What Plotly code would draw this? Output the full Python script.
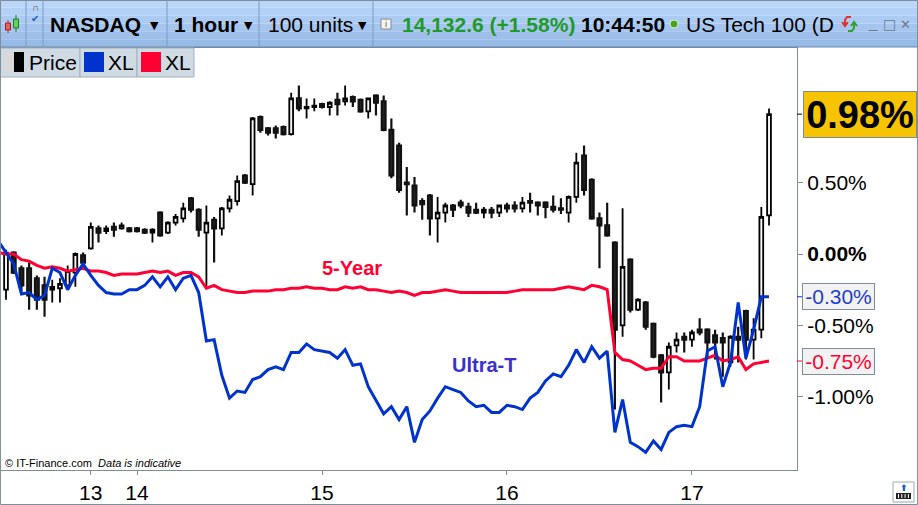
import plotly.graph_objects as go

# ---------------- data ----------------
bar_index = list(range(100))
price_open = [-0.25, 0.01, -0.10, -0.10, -0.17, -0.22, -0.25, -0.24, -0.22, -0.13,
              -0.01, 0.04, 0.18, 0.16, 0.19, 0.18, 0.18, 0.18, 0.17, 0.15,
              0.29, 0.15, 0.22, 0.25, 0.39, 0.31, 0.15, 0.24, 0.18, 0.32,
              0.37, 0.55, 0.49, 0.96, 0.88, 0.88, 0.89, 0.84, 1.09, 1.02,
              1.03, 1.05, 1.03, 1.08, 1.07, 1.10, 1.08, 1.00, 1.11, 1.07,
              0.87, 0.76, 0.50, 0.48, 0.37, 0.41, 0.25, 0.29, 0.34, 0.36,
              0.33, 0.31, 0.29, 0.31, 0.29, 0.34, 0.34, 0.32, 0.37, 0.36,
              0.36, 0.33, 0.32, 0.29, 0.40, 0.69, 0.52, 0.25, 0.20, 0.08,
              -0.50, -0.04, -0.39, -0.34, -0.49, -0.71, -0.83, -0.64, -0.58, -0.60,
              -0.53, -0.53, -0.57, -0.59, -0.76, -0.58, -0.40, -0.60, -0.53, 0.27]
price_high = [0.03, 0.02, -0.08, -0.06, -0.15, -0.16, -0.18, -0.17, -0.08, 0.01,
              0.01, 0.22, 0.20, 0.20, 0.22, 0.22, 0.19, 0.19, 0.18, 0.18,
              0.30, 0.23, 0.28, 0.36, 0.40, 0.32, 0.34, 0.26, 0.33, 0.41,
              0.55, 0.56, 0.96, 0.97, 0.89, 0.90, 0.90, 1.13, 1.18, 1.09,
              1.09, 1.06, 1.07, 1.13, 1.18, 1.11, 1.09, 1.09, 1.12, 1.11,
              0.95, 0.78, 0.61, 0.54, 0.39, 0.42, 0.40, 0.36, 0.35, 0.38,
              0.36, 0.36, 0.33, 0.33, 0.34, 0.36, 0.37, 0.40, 0.43, 0.37,
              0.37, 0.41, 0.39, 0.41, 0.71, 0.76, 0.53, 0.29, 0.36, 0.09,
              0.32, -0.03, -0.31, -0.33, -0.48, -0.70, -0.62, -0.55, -0.55, -0.53,
              -0.45, -0.52, -0.53, -0.55, -0.57, -0.51, -0.39, -0.45, 0.33, 1.02]
price_low = [-0.32, -0.14, -0.27, -0.39, -0.39, -0.44, -0.34, -0.34, -0.24, -0.23,
             -0.07, 0.03, 0.08, 0.14, 0.12, 0.17, 0.15, 0.15, 0.14, 0.08,
             0.12, 0.14, 0.20, 0.22, 0.29, 0.12, -0.23, -0.06, 0.13, 0.29,
             0.34, 0.49, 0.41, 0.85, 0.83, 0.81, 0.83, 0.83, 1.00, 0.95,
             1.00, 1.02, 0.97, 0.97, 1.04, 1.03, 0.99, 0.95, 0.97, 0.86,
             0.53, 0.43, 0.27, 0.29, 0.24, 0.13, 0.08, 0.22, 0.26, 0.32,
             0.26, 0.28, 0.25, 0.25, 0.26, 0.29, 0.29, 0.29, 0.29, 0.27,
             0.25, 0.29, 0.28, 0.22, 0.36, 0.41, 0.24, -0.10, 0.12, -1.09,
             -0.58, -0.41, -0.40, -0.53, -0.73, -1.04, -0.95, -0.69, -0.69, -0.65,
             -0.57, -0.72, -0.74, -0.86, -0.79, -0.76, -0.74, -0.74, -0.59, 0.20]
price_close = [0.01, -0.13, -0.22, -0.29, -0.32, -0.32, -0.23, -0.21, -0.12, 0.00,
               -0.06, 0.19, 0.15, 0.18, 0.17, 0.20, 0.16, 0.16, 0.15, 0.17,
               0.13, 0.22, 0.26, 0.32, 0.31, 0.17, 0.22, 0.18, 0.32, 0.38,
               0.51, 0.50, 0.95, 0.87, 0.85, 0.85, 0.84, 1.09, 1.02, 1.03,
               1.04, 1.03, 1.06, 1.05, 1.09, 1.07, 1.00, 1.09, 1.06, 0.87,
               0.55, 0.45, 0.49, 0.34, 0.35, 0.25, 0.29, 0.34, 0.31, 0.34,
               0.29, 0.29, 0.31, 0.29, 0.34, 0.32, 0.32, 0.36, 0.36, 0.34,
               0.33, 0.31, 0.31, 0.40, 0.64, 0.45, 0.25, 0.20, 0.13, -0.53,
               -0.09, -0.39, -0.32, -0.51, -0.72, -0.83, -0.65, -0.60, -0.60, -0.55,
               -0.55, -0.62, -0.62, -0.62, -0.58, -0.60, -0.60, -0.53, 0.26, 0.98]

line_index = list(range(-1, 100))
ultra_t = [0.09, 0.01, -0.07, -0.28, -0.27, -0.32, -0.29, -0.10, -0.13, -0.25, -0.15,
           -0.07, -0.15, -0.22, -0.27, -0.28, -0.28, -0.25, -0.25, -0.22, -0.16,
           -0.23, -0.16, -0.25, -0.17, -0.15, -0.27, -0.61, -0.60, -0.85, -1.01,
           -0.96, -0.97, -0.88, -0.86, -0.81, -0.79, -0.81, -0.69, -0.69, -0.63,
           -0.67, -0.68, -0.69, -0.73, -0.67, -0.78, -0.77, -0.93, -1.02, -1.12,
           -1.07, -1.16, -1.07, -1.32, -1.16, -1.10, -1.01, -0.93, -0.95, -0.97,
           -1.03, -1.07, -1.06, -1.11, -1.11, -1.06, -1.07, -1.09, -1.01, -0.97,
           -0.89, -0.84, -0.86, -0.78, -0.67, -0.76, -0.65, -0.73, -0.68, -1.25,
           -1.02, -1.32, -1.35, -1.39, -1.31, -1.37, -1.25, -1.21, -1.20, -1.21,
           -1.07, -0.68, -0.65, -0.93, -0.76, -0.34, -0.73, -0.53, -0.30, -0.30]
five_year = [0.01, 0.00, 0.00, -0.04, -0.05, -0.08, -0.10, -0.09, -0.10, -0.12, -0.11,
             -0.10, -0.12, -0.12, -0.13, -0.15, -0.14, -0.14, -0.14, -0.13, -0.12,
             -0.13, -0.12, -0.15, -0.13, -0.13, -0.16, -0.24, -0.22, -0.25, -0.26,
             -0.27, -0.27, -0.26, -0.26, -0.26, -0.25, -0.25, -0.24, -0.24, -0.23,
             -0.24, -0.24, -0.25, -0.25, -0.23, -0.24, -0.23, -0.25, -0.25, -0.26,
             -0.27, -0.26, -0.27, -0.29, -0.27, -0.27, -0.26, -0.25, -0.26, -0.27,
             -0.27, -0.27, -0.27, -0.27, -0.27, -0.27, -0.26, -0.25, -0.25, -0.25,
             -0.25, -0.25, -0.24, -0.23, -0.24, -0.25, -0.22, -0.23, -0.25, -0.69,
             -0.74, -0.75, -0.78, -0.81, -0.80, -0.80, -0.72, -0.72, -0.75, -0.75,
             -0.75, -0.73, -0.71, -0.75, -0.74, -0.72, -0.81, -0.77, -0.76, -0.75]

series_names = ["Price", "XL", "XL"]
series_labels = ["5-Year", "Ultra-T"]
day_ticks = [11, 17, 41, 65, 89]
day_labels = ["13", "14", "15", "16", "17"]
pct_ticks = [0.5, 0.0, -0.5, -1.0]
pct_labels = ["0.50%", "<b>0.00%</b>", "-0.50%", "-1.00%"]

# ---------------- styling / helpers ----------------
W, H = 918, 505
FONT = "Liberation Sans, Arial, sans-serif"
BLUE = "#0033cc"
RED = "#ff0033"
AXC = "#7f8c99"


def px(x):
    return x / W


def py(y):
    return 1 - y / H


fig = go.Figure()

fig.add_trace(go.Candlestick(
    x=bar_index, open=price_open, high=price_high, low=price_low, close=price_close,
    name=series_names[0],
    increasing=dict(line=dict(color="#000000", width=1.8), fillcolor="#f4f4f4"),
    decreasing=dict(line=dict(color="#111111", width=2.2), fillcolor="#222222"),
    whiskerwidth=0, hoverinfo="skip", showlegend=False,
))
fig.add_trace(go.Scatter(x=line_index, y=five_year, mode="lines", name=series_names[2],
                         line=dict(color=RED, width=3), hoverinfo="skip", showlegend=False))
fig.add_trace(go.Scatter(x=line_index, y=ultra_t, mode="lines", name=series_names[1],
                         line=dict(color=BLUE, width=3), hoverinfo="skip", showlegend=False))

shapes = []
annotations = []


def note(x, y, text, size=21, color="#000000", xanchor="center", family=FONT, **kw):
    annotations.append(dict(x=px(x), y=py(y), xref="paper", yref="paper", text=text, showarrow=False,
                            xanchor=xanchor, yanchor="middle",
                            font=dict(size=size, color=color, family=family), **kw))


def ppath(points, color, width=2):
    d = "M " + " L ".join("%.5f %.5f" % (px(a), py(b)) for a, b in points)
    shapes.append(dict(type="path", xref="paper", yref="paper", path=d,
                       line=dict(color=color, width=width), layer="above"))


# toolbar background (banded gradient)
tb_colors = ["#bad7f9", "#b3d1f6", "#accbf2", "#a5c5ee", "#9ebfea", "#98bae6"]
band = 47 / len(tb_colors)
for k, c in enumerate(tb_colors):
    shapes.append(dict(type="rect", xref="paper", yref="paper", x0=0, x1=1,
                       y0=py(band * (k + 1)), y1=py(band * k), fillcolor=c, line=dict(width=0), layer="above"))
shapes.append(dict(type="line", xref="paper", yref="paper", x0=0, x1=1, y0=py(47), y1=py(47),
                   line=dict(color="#6c88ae", width=1), layer="above"))
for sx in [26, 43, 167, 259, 373]:
    shapes.append(dict(type="line", xref="paper", yref="paper", x0=px(sx), x1=px(sx), y0=py(1), y1=py(46),
                       line=dict(color="#7d9bc3", width=1), layer="above"))

# small candle icon at left of toolbar
shapes.append(dict(type="line", xref="paper", yref="paper", x0=px(8), x1=px(8), y0=py(20), y1=py(33),
                   line=dict(color="#c03030", width=1), layer="above"))
shapes.append(dict(type="rect", xref="paper", yref="paper", x0=px(5.5), x1=px(10.5), y0=py(30), y1=py(23),
                   fillcolor="#e86060", line=dict(color="#a02020", width=1), layer="above"))
shapes.append(dict(type="line", xref="paper", yref="paper", x0=px(16), x1=px(16), y0=py(15), y1=py(32),
                   line=dict(color="#208020", width=1), layer="above"))
shapes.append(dict(type="rect", xref="paper", yref="paper", x0=px(13.5), x1=px(18.5), y0=py(28), y1=py(19),
                   fillcolor="#60d060", line=dict(color="#208020", width=1), layer="above"))
note(35, 7, "∩", size=10, color="#555555")
note(35, 18, "✔", size=10, color="#2255cc", family="DejaVu Sans")

# toolbar texts
note(48, 24, "<b>NASDAQ</b>", xanchor="left")
note(154, 25, "▼", size=11, family="DejaVu Sans")
note(172, 24, "<b>1 hour</b>", xanchor="left")
note(248, 25, "▼", size=11, family="DejaVu Sans")
note(266, 24, "100 units", xanchor="left")
note(362, 25, "▼", size=11, family="DejaVu Sans")
note(400, 24, "<b>14,132.6 (+1.58%)</b>", color="#22992a", xanchor="left")
note(579, 24, "<b>10:44:50</b>", xanchor="left")
note(684, 24, "US Tech 100 (D", xanchor="left")
note(873, 22, "_", size=15, color="#6a7a8a")
note(889, 24, "□", size=14, color="#6a7a8a", family="DejaVu Sans")
note(905, 24, "✕", size=13, color="#6a7a8a", family="DejaVu Sans")
# info icon
shapes.append(dict(type="rect", xref="paper", yref="paper", x0=px(381), x1=px(391), y0=py(29), y1=py(19),
                   fillcolor="#f4f4f4", line=dict(color="#8a8a8a", width=1), layer="above"))
note(386, 24, "i", size=9, color="#555555")
# green status dot
shapes.append(dict(type="circle", xref="paper", yref="paper", x0=px(670), x1=px(678), y0=py(28), y1=py(20),
                   fillcolor="#4aa020", line=dict(color="#d8f0c8", width=1), layer="above"))
# refresh icon (red down arc + green up arc)
ppath([(851, 17), (847, 17), (845, 20), (845, 25)], "#e03030", 2)
ppath([(842, 22), (845, 26), (848, 22)], "#e03030", 2)
ppath([(848, 31), (852, 31), (854, 28), (854, 23)], "#30a030", 2)
ppath([(851, 26), (854, 22), (857, 26)], "#30a030", 2)

# legend row
legend_boxes = [(0, 80), (80, 137), (137, 194)]
for (a, b) in legend_boxes:
    shapes.append(dict(type="rect", xref="paper", yref="paper", x0=px(a), x1=px(b), y0=py(77), y1=py(48),
                       fillcolor="#cfdae2", line=dict(color="#9fb0bf", width=1), layer="above"))
shapes.append(dict(type="rect", xref="paper", yref="paper", x0=px(4), x1=px(14), y0=py(72), y1=py(52),
                   fillcolor="#d8d8d8", line=dict(width=0), layer="above"))
shapes.append(dict(type="rect", xref="paper", yref="paper", x0=px(14), x1=px(24), y0=py(72), y1=py(52),
                   fillcolor="#000000", line=dict(width=0), layer="above"))
shapes.append(dict(type="rect", xref="paper", yref="paper", x0=px(84), x1=px(104), y0=py(72), y1=py(52),
                   fillcolor=BLUE, line=dict(width=0), layer="above"))
shapes.append(dict(type="rect", xref="paper", yref="paper", x0=px(141), x1=px(161), y0=py(72), y1=py(52),
                   fillcolor=RED, line=dict(width=0), layer="above"))
for x0, name in zip([27, 106, 163], series_names):
    note(x0, 62, name, xanchor="left")

# series labels in the plot
note(352, 268, "<b>" + series_labels[0] + "</b>", size=20, color=RED)
note(484, 365, "<b>" + series_labels[1] + "</b>", size=20, color="#3a2fcf")

# copyright
note(3, 463, "© IT-Finance.com  <i>Data is indicative</i>", size=11, xanchor="left")


# last value markers on right axis
def value_box(val, text, fg, bg, size, x0, x1, h, tick_color):
    shapes.append(dict(type="line", xref="paper", yref="y", x0=px(797), x1=px(802), y0=val, y1=val,
                       line=dict(color=tick_color, width=1)))
    annotations.append(dict(x=px(x0), y=val, xref="paper", yref="y", text=text, showarrow=False,
                            xanchor="left", yanchor="middle", width=x1 - x0 - 2, height=h,
                            bgcolor=bg, bordercolor="#7f8c99", borderwidth=1, borderpad=0,
                            font=dict(size=size, color=fg, family=FONT)))


value_box(price_close[-1], "<b>%.2f%%</b>" % price_close[-1], "#000000", "#f6c400", 38, 803, 917, 45, "#000000")
value_box(ultra_t[-1], "%.2f%%" % ultra_t[-1], "#1f3fd0", "#f2f2f2", 21, 802, 875, 25, BLUE)
value_box(five_year[-1], "%.2f%%" % five_year[-1], RED, "#f2f2f2", 21, 802, 875, 25, RED)

# outer frame and bottom-right icon
shapes.append(dict(type="rect", xref="paper", yref="paper", x0=0.0005, x1=0.9995, y0=0.001, y1=0.999,
                   line=dict(color="#7f8c99", width=1), layer="above"))
shapes.append(dict(type="rect", xref="paper", yref="paper", x0=px(893), x1=px(914), y0=py(502), y1=py(482),
                   fillcolor="#ffffff", line=dict(color="#9aa8b5", width=1), layer="above"))
shapes.append(dict(type="rect", xref="paper", yref="paper", x0=px(896), x1=px(911), y0=py(499), y1=py(493),
                   fillcolor="#222222", line=dict(width=0), layer="above"))
for k in range(4):
    shapes.append(dict(type="line", xref="paper", yref="paper", x0=px(898.5 + 3.3 * k), x1=px(898.5 + 3.3 * k),
                       y0=py(498), y1=py(494), line=dict(color="#ffffff", width=1), layer="above"))
note(903.5, 488, "<b>⬆</b>", size=9, color="#2255cc", family="DejaVu Sans")

fig.update_layout(
    width=W, height=H, margin=dict(l=0, r=0, t=0, b=0),
    paper_bgcolor="#ffffff", plot_bgcolor="#ffffff",
    showlegend=False, boxgap=0.3,
    font=dict(family=FONT, color="#000000"),
    shapes=shapes, annotations=annotations,
    xaxis=dict(domain=[0, 797 / W], range=[-0.78, 102.63], showgrid=False, zeroline=False,
               tickmode="array", tickvals=day_ticks, ticktext=day_labels,
               ticks="outside", ticklen=4, tickcolor=AXC, showline=True, linecolor=AXC, mirror=True,
               tickfont=dict(size=21, color="#000000", family=FONT), rangeslider=dict(visible=False),
               fixedrange=True),
    yaxis=dict(domain=[35 / H, 457 / H], range=[-1.5137, 1.4436], side="right", showgrid=False, zeroline=False,
               tickmode="array", tickvals=pct_ticks, ticktext=pct_labels,
               ticks="outside", ticklen=5, tickcolor=AXC, showline=True, linecolor=AXC, mirror=True,
               tickfont=dict(size=21, color="#000000", family=FONT), fixedrange=True),
)

fig.write_html("out.html", config={"displayModeBar": False},
               post_script="document.body.style.margin='0px';document.body.style.overflow='hidden';")
